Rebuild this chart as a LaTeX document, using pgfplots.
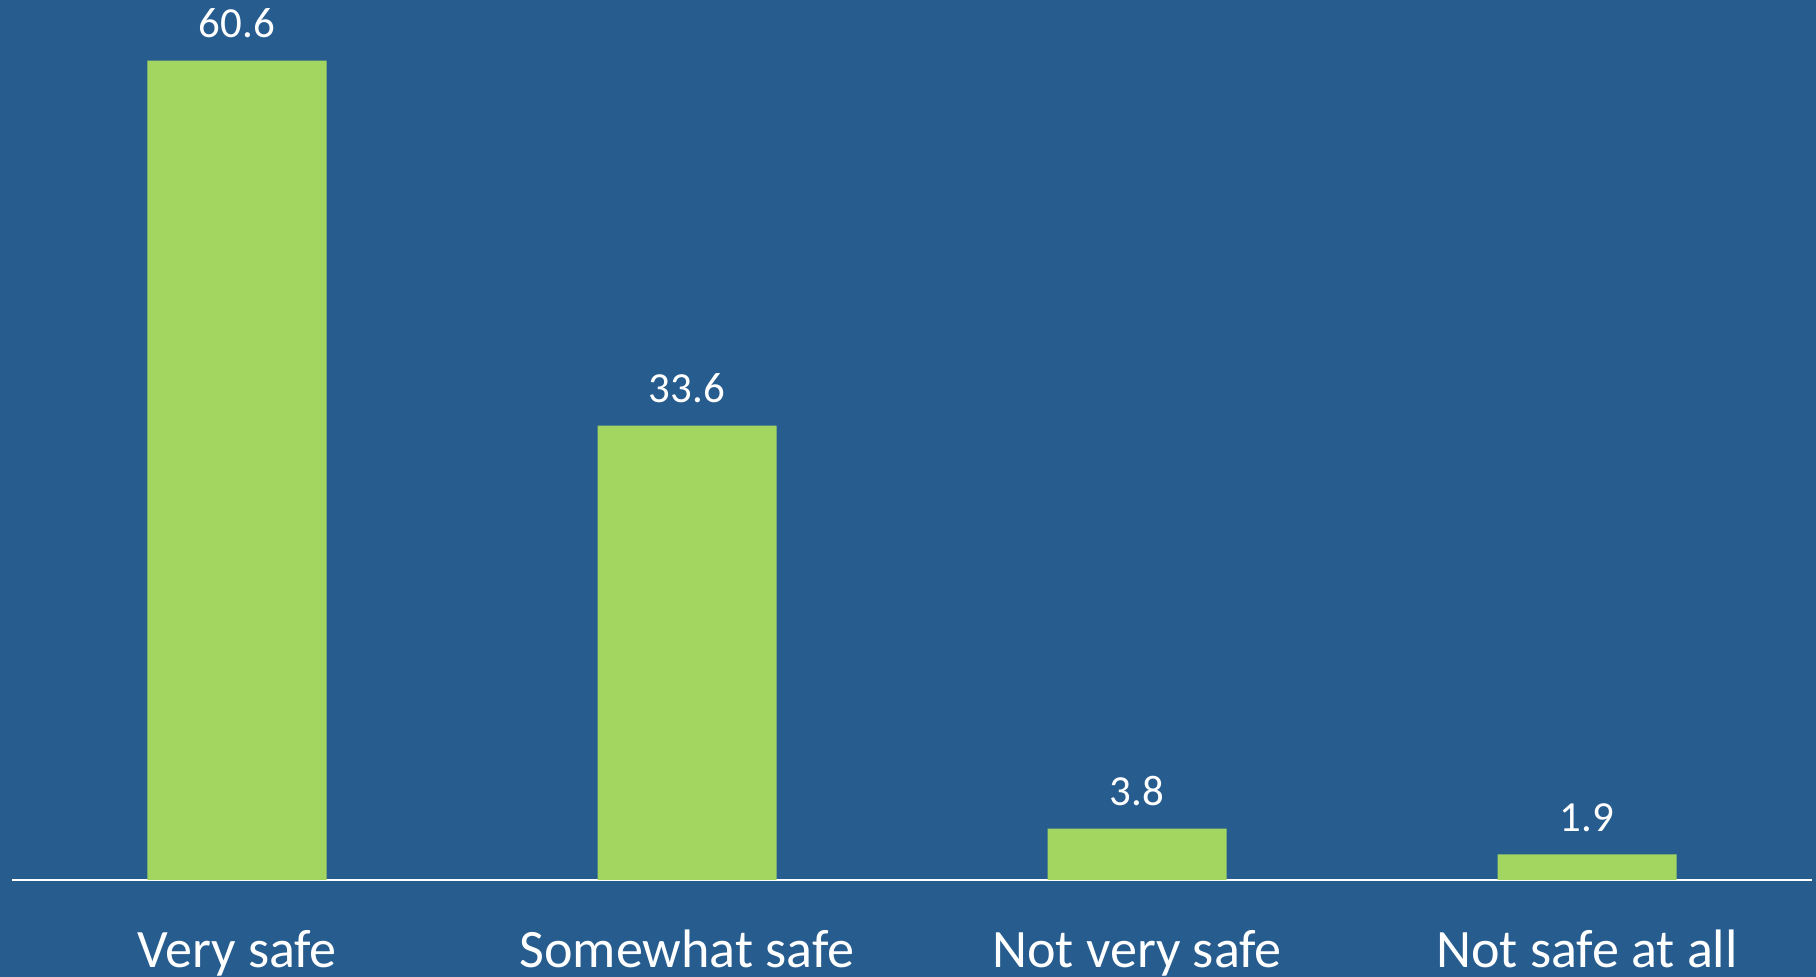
\documentclass[border=0pt]{standalone}
\usepackage{pgfplots}
\pgfplotsset{compat=1.18}
\usepackage{fontspec}
\setmainfont{Carlito}
\definecolor{bgblue}{RGB}{39,92,143}
\definecolor{bargreen}{RGB}{162,214,97}
\begin{document}
\begin{tikzpicture}
\fill[bgblue] (0,0) rectangle (18.16cm,9.77cm);
\begin{scope}
\clip (0,0) rectangle (18.16cm,9.77cm);
\begin{axis}[
  at={(0.12cm,0.97cm)}, anchor=south west,
  scale only axis,
  width=18cm, height=9.464cm,
  xmin=-0.5, xmax=3.5, ymin=0, ymax=70,
  axis x line=bottom, axis y line=none,
  x axis line style={white, line width=0.4pt, -},
  xtick=data,
  xticklabels={Very safe, Somewhat safe, Not very safe, Not safe at all},
  major tick length=0pt,
  xticklabel style={font=\fontsize{15.4}{18}\selectfont, text=white, anchor=base, yshift=-8.8mm},
  ybar, bar width=1.79cm,
  nodes near coords={\pgfmathprintnumber[fixed,fixed zerofill,precision=1,assume math mode=true]{\pgfplotspointmeta}},
  every node near coord/.append style={font=\fontsize{12.2}{14}\selectfont, text=white, anchor=base, yshift=2.3mm},
  clip=false,
]
\addplot[fill=bargreen, draw=none] coordinates {(0,60.6) (1,33.6) (2,3.8) (3,1.9)};
\end{axis}
\end{scope}
\pgfresetboundingbox
\useasboundingbox (0,0) rectangle (18.16cm,9.77cm);
\end{tikzpicture}
\end{document}
